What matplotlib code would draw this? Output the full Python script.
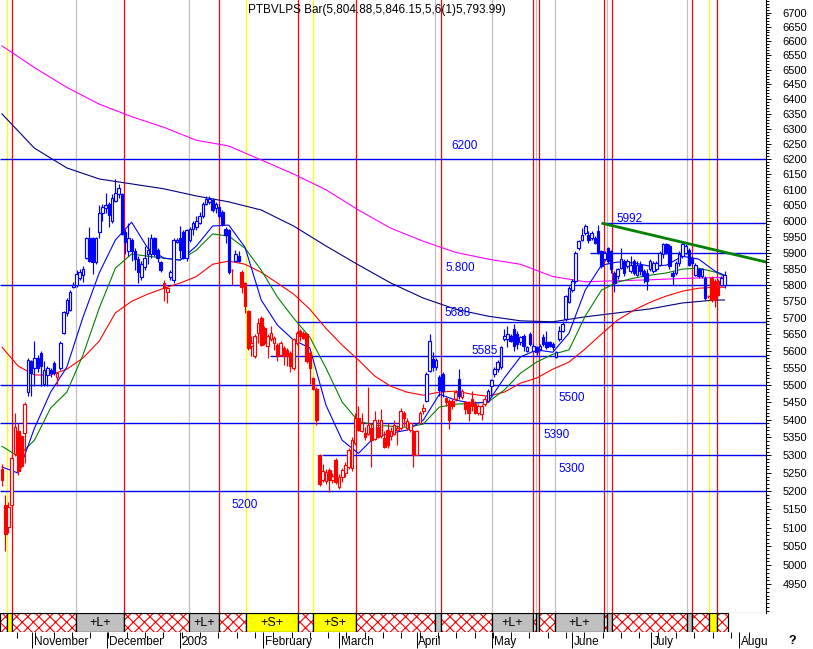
import matplotlib
matplotlib.use('Agg')
import matplotlib.pyplot as plt
import matplotlib.ticker as mticker
import matplotlib.transforms as mtransforms
from matplotlib.patches import Rectangle
import numpy as np

plt.rcParams['font.family'] = ['Liberation Sans', 'DejaVu Sans']
plt.rcParams['hatch.linewidth'] = 0.8

# daily OHLC, Oct 2002 - Jul 2003 (bar index on x)
open_ = [5260, 5162, 5102, 5162, 5302, 5367, 5353, 5362, 5480, 5570,
         5550, 5580, 5595, 5505, 5530, 5545, 5565, 5525, 5550, 5655,
         5715, 5725, 5795, 5800, 5820, 5830, 5885, 5947, 5947, 5870,
         5965, 6025, 6040, 6055, 6000, 6065, 6085, 6085, 5965, 5905,
         5940, 5905, 5880, 5825, 5855, 5895, 5895, 5945, 5910, 5870,
         5805, 5780, 5825, 5815, 5935, 5945, 5965, 5885, 5940, 5975,
         5980, 5995, 6015, 6055, 6060, 6067, 6040, 6045, 6030, 5975,
         5970, 5845, 5875, 5890, 5840, 5805, 5720, 5615, 5585, 5655,
         5700, 5670, 5615, 5635, 5625, 5620, 5590, 5610, 5605, 5595,
         5550, 5625, 5660, 5655, 5650, 5595, 5520, 5490, 5300, 5230,
         5228, 5258, 5232, 5286, 5212, 5240, 5249, 5267, 5263, 5333,
         5406, 5368, 5362, 5361, 5376, 5347, 5380, 5353, 5348, 5372,
         5353, 5361, 5372, 5376, 5420, 5376, 5372, 5367, 5300, 5392,
         5426, 5455, 5543, 5577, 5553, 5525, 5533, 5462, 5455, 5455,
         5460, 5519, 5465, 5450, 5450, 5460, 5445, 5420, 5416, 5445,
         5455, 5499, 5533, 5548, 5553, 5636, 5636, 5646, 5666, 5651,
         5626, 5646, 5602, 5651, 5602, 5612, 5607, 5641, 5626, 5626,
         5622, 5582, 5636, 5661, 5695, 5749, 5785, 5811, 5915, 5941,
         5962, 5957, 5947, 5947, 5967, 5905, 5879, 5915, 5905, 5837,
         5827, 5853, 5874, 5858, 5843, 5874, 5832, 5863, 5843, 5837,
         5848, 5843, 5848, 5863, 5895, 5926, 5921, 5837, 5837, 5869,
         5889, 5900, 5910, 5884, 5832, 5848, 5827, 5822, 5765, 5822,
         5811, 5811, 5801, 5801]
high = [5275, 5190, 5170, 5297, 5421, 5390, 5358, 5451, 5580, 5575,
        5630, 5590, 5600, 5570, 5555, 5550, 5570, 5535, 5630, 5720,
        5760, 5785, 5810, 5845, 5850, 5860, 5950, 5980, 5950, 5950,
        6050, 6055, 6090, 6060, 6085, 6135, 6120, 6090, 5975, 5995,
        5945, 5915, 5890, 5875, 5920, 5950, 5960, 5950, 5915, 5875,
        5815, 5795, 5845, 5945, 5945, 5985, 5970, 5975, 5980, 6000,
        6015, 6030, 6060, 6080, 6080, 6075, 6060, 6055, 6035, 5980,
        5975, 5848, 5910, 5905, 5845, 5810, 5725, 5645, 5650, 5700,
        5705, 5675, 5650, 5675, 5645, 5625, 5630, 5615, 5610, 5600,
        5640, 5660, 5665, 5660, 5655, 5600, 5525, 5495, 5302, 5275,
        5262, 5265, 5250, 5292, 5248, 5265, 5280, 5320, 5350, 5420,
        5440, 5420, 5381, 5494, 5390, 5425, 5402, 5430, 5367, 5390,
        5380, 5401, 5386, 5435, 5425, 5406, 5395, 5372, 5372, 5425,
        5445, 5538, 5651, 5597, 5580, 5530, 5538, 5465, 5460, 5460,
        5485, 5548, 5490, 5455, 5455, 5484, 5455, 5445, 5445, 5470,
        5490, 5519, 5553, 5575, 5617, 5666, 5675, 5651, 5680, 5661,
        5646, 5651, 5617, 5656, 5625, 5617, 5622, 5651, 5661, 5631,
        5626, 5602, 5675, 5690, 5770, 5796, 5817, 5905, 5941, 5978,
        5990, 5967, 5967, 5952, 5988, 5910, 5905, 5917, 5910, 5842,
        5853, 5915, 5879, 5880, 5889, 5879, 5874, 5874, 5848, 5848,
        5880, 5874, 5874, 5905, 5931, 5931, 5926, 5842, 5874, 5905,
        5931, 5926, 5915, 5889, 5869, 5853, 5853, 5827, 5768, 5827,
        5817, 5817, 5827, 5843]
low = [5215, 5037, 5085, 5157, 5297, 5246, 5264, 5278, 5470, 5470,
       5499, 5540, 5499, 5499, 5499, 5525, 5530, 5499, 5545, 5650,
       5705, 5720, 5790, 5795, 5815, 5810, 5880, 5870, 5835, 5865,
       5945, 6000, 6025, 5980, 5995, 6060, 6075, 5955, 5895, 5890,
       5875, 5845, 5805, 5815, 5845, 5865, 5885, 5890, 5870, 5840,
       5750, 5745, 5815, 5805, 5930, 5885, 5880, 5875, 5935, 5955,
       5970, 5990, 6010, 6050, 6055, 6030, 6025, 6010, 5985, 5930,
       5835, 5800, 5870, 5870, 5775, 5715, 5605, 5585, 5580, 5625,
       5615, 5620, 5580, 5630, 5605, 5570, 5585, 5560, 5555, 5540,
       5545, 5620, 5630, 5635, 5565, 5505, 5485, 5385, 5215, 5225,
       5220, 5198, 5222, 5220, 5205, 5225, 5240, 5260, 5255, 5330,
       5367, 5365, 5343, 5357, 5267, 5342, 5348, 5348, 5320, 5319,
       5343, 5357, 5329, 5372, 5382, 5372, 5365, 5267, 5300, 5387,
       5416, 5450, 5538, 5543, 5545, 5470, 5465, 5441, 5375, 5430,
       5455, 5460, 5460, 5416, 5396, 5426, 5416, 5415, 5401, 5440,
       5450, 5470, 5524, 5540, 5548, 5631, 5612, 5626, 5602, 5607,
       5620, 5602, 5597, 5617, 5597, 5590, 5600, 5617, 5607, 5612,
       5605, 5580, 5631, 5656, 5690, 5744, 5780, 5806, 5910, 5936,
       5957, 5930, 5941, 5926, 5895, 5853, 5875, 5869, 5837, 5780,
       5817, 5848, 5827, 5853, 5837, 5832, 5827, 5832, 5806, 5785,
       5843, 5837, 5843, 5858, 5884, 5895, 5848, 5800, 5832, 5858,
       5884, 5895, 5858, 5858, 5827, 5822, 5822, 5754, 5760, 5749,
       5733, 5765, 5796, 5790]
close = [5232, 5083, 5157, 5292, 5381, 5255, 5269, 5446, 5575, 5535,
         5580, 5550, 5555, 5545, 5550, 5535, 5535, 5535, 5625, 5717,
         5755, 5780, 5800, 5835, 5840, 5850, 5945, 5873, 5870, 5945,
         6025, 6045, 6050, 6020, 6075, 6090, 6105, 5960, 5935, 5945,
         5905, 5880, 5840, 5865, 5885, 5910, 5945, 5895, 5885, 5845,
         5790, 5790, 5840, 5940, 5940, 5910, 5885, 5970, 5975, 5995,
         6000, 6015, 6055, 6070, 6070, 6035, 6055, 6015, 5990, 5955,
         5840, 5845, 5895, 5875, 5795, 5735, 5610, 5625, 5645, 5685,
         5620, 5625, 5645, 5655, 5640, 5585, 5625, 5585, 5585, 5555,
         5635, 5655, 5645, 5640, 5570, 5550, 5490, 5400, 5220, 5255,
         5254, 5230, 5242, 5226, 5240, 5258, 5272, 5314, 5343, 5405,
         5372, 5391, 5352, 5386, 5343, 5401, 5352, 5401, 5324, 5329,
         5367, 5386, 5376, 5425, 5406, 5396, 5391, 5300, 5367, 5421,
         5435, 5533, 5631, 5553, 5573, 5485, 5484, 5450, 5401, 5440,
         5480, 5470, 5484, 5430, 5420, 5440, 5420, 5440, 5440, 5460,
         5484, 5514, 5548, 5568, 5612, 5646, 5651, 5631, 5617, 5622,
         5641, 5617, 5612, 5622, 5617, 5597, 5617, 5622, 5612, 5617,
         5612, 5597, 5661, 5680, 5765, 5791, 5811, 5900, 5936, 5957,
         5983, 5941, 5962, 5931, 5900, 5858, 5900, 5874, 5848, 5806,
         5848, 5879, 5837, 5874, 5863, 5837, 5863, 5843, 5827, 5811,
         5874, 5869, 5869, 5900, 5926, 5900, 5858, 5827, 5869, 5895,
         5926, 5921, 5863, 5869, 5863, 5827, 5848, 5759, 5765, 5754,
         5754, 5770, 5822, 5832]
# bars drawn in red (first, last index of each run)
red_spans = [(0, 7), (17, 17), (50, 51), (71, 71), (74, 130), (137, 140), (142, 149), (218, 221)]

# moving averages, read every 5 bars
ma_idx = [0, 5, 10, 15, 20, 25, 30, 35, 40, 45, 50, 55, 60, 65, 70, 75, 80, 85, 90, 95,
          100, 105, 110, 115, 120, 125, 130, 135, 140, 145, 150, 155, 160, 165, 170, 175,
          180, 185, 190, 195, 200, 205, 210, 215, 220, 223]
ma_blue = [5267, 5250, 5376, 5480, 5553, 5702, 5837, 5940, 5996, 5914, 5883, 5877, 5921, 5984,
           5987, 5917, 5754, 5678, 5633, 5610, 5442, 5342, 5305, 5351, 5362, 5371, 5399, 5474,
           5457, 5448, 5451, 5521, 5583, 5604, 5597, 5654, 5784, 5861, 5871, 5868, 5858, 5861,
           5889, 5880, 5843, 5830]
ma_green = [5325, 5297, 5342, 5434, 5480, 5589, 5729, 5852, 5896, 5889, 5883, 5877, 5908, 5959,
            5952, 5914, 5846, 5763, 5699, 5642, 5550, 5451, 5396, 5385, 5382, 5379, 5388, 5437,
            5445, 5448, 5451, 5486, 5535, 5568, 5591, 5604, 5705, 5784, 5809, 5821, 5830, 5837,
            5849, 5852, 5840, 5827]
ma_red = [5612, 5556, 5530, 5530, 5547, 5580, 5630, 5715, 5750, 5772, 5790, 5806, 5826, 5864,
          5874, 5864, 5839, 5806, 5772, 5726, 5668, 5618, 5574, 5527, 5497, 5480, 5471, 5480,
          5483, 5474, 5468, 5480, 5506, 5521, 5547, 5568, 5607, 5651, 5693, 5723, 5747, 5766,
          5781, 5790, 5793, 5793]
# long averages, read every 10 bars
long_idx = [0, 10, 20, 30, 40, 50, 60, 70, 80, 90, 100, 110, 120, 130, 140, 150, 160, 170,
            180, 190, 200, 210, 220, 223]
ma_navy = [6350, 6236, 6171, 6135, 6119, 6103, 6080, 6061, 6035, 5984, 5921, 5862, 5806, 5760,
           5726, 5705, 5691, 5688, 5703, 5715, 5727, 5745, 5754, 5754]
ma_magenta = [6583, 6508, 6440, 6383, 6341, 6305, 6262, 6243, 6197, 6151, 6100, 6035, 5977, 5936,
              5901, 5880, 5864, 5826, 5810, 5813, 5816, 5820, 5823, 5823]

# support / resistance levels and where they start (None = whole width)
levels = [6200, 5992, 5900, 5800, 5688, 5585, 5500, 5390, 5300, 5200]
level_start = [None, 185, 181.5, None, 91, 82.7, None, None, 98.8, None]
trend_idx = [185.5, 235.8]
trend_val = [5992, 5871]

# signal band: start bar of each state (N = neutral, L = long, S = short)
sig_start = [-0.6, 1.5, 3.1, 22.8, 37.7, 57.7, 67.0, 75.3, 91.4, 96.0, 109.3, 133.6, 135.5,
             151.2, 163.9, 164.8, 165.7, 170.7, 185.8, 186.7, 188.3, 211.4, 213.0, 218.2, 220.7]
sig_state = ['N', 'S', 'N', 'L', 'N', 'L', 'N', 'S', 'N', 'S', 'N', 'L', 'N', 'L', 'N', 'L',
             'N', 'L', 'N', 'L', 'N', 'L', 'N', 'S', 'N']
sig_end = 224.1

month_idx = [9.3, 32.4, 54.9, 80.6, 104.0, 128.0, 151.2, 175.9, 200.3, 227.5]
month_lbl = ['November', 'December', '2003', 'February', 'March', 'April', 'May', 'June',
             'July', 'August']

n = len(close)
idx = np.arange(n)
o = np.array(open_, float)
c = np.array(close, float)
is_red = np.zeros(n, bool)
for a, b in red_spans:
    is_red[a:b + 1] = True
cols = np.where(is_red, '#ff0000', '#0000ff')

W, H = 813, 649
fig = plt.figure(figsize=(W / 100, H / 100), dpi=100)
ax = fig.add_axes([0, 1 - 613 / H, 766 / W, 613 / H])
axb = fig.add_axes([0, 1 - 632 / H, 766 / W, 19 / H])
XMIN, XMAX = -0.62, 235.8

ax.set_yscale('log')
ax.set_ylim(4875, 6745)
ax.set_xlim(XMIN, XMAX)

# signal verticals
line_col = {'N': '#ff0000', 'L': '#c0c0c0', 'S': '#ffff00'}
for s, st in zip(sig_start[1:], sig_state[1:]):
    ax.axvline(s, color=line_col[st], lw=0.9, zorder=1)

# levels
for lv, st in zip(levels, level_start):
    x0 = XMIN if st is None else st
    ax.hlines(lv, x0, XMAX, color='#0000f0', lw=1.0, zorder=2)

labels = [('6200', 138.6, 6243), ('5992', 189.8, 6006), ('5.800', 137.0, 5852),
          ('5688', 136.7, 5714), ('5585', 144.8, 5600), ('5500', 171.6, 5463),
          ('5390', 167.0, 5357), ('5300', 171.6, 5262), ('5200', 70.7, 5161)]
for t, x, y in labels:
    ax.text(x, y, t, color='#0000ff', fontsize=8.5, ha='left', va='center', zorder=6)

# moving averages
ax.plot(long_idx, ma_magenta, color='#ff00ff', lw=0.8, zorder=2.5)
ax.plot(long_idx, ma_navy, color='#000080', lw=0.8, zorder=2.5)
ax.plot(ma_idx, ma_red, color='#ff0000', lw=0.8, zorder=2.5)
ax.plot(ma_idx, ma_green, color='#008000', lw=0.8, zorder=2.5)
ax.plot(ma_idx, ma_blue, color='#0000ff', lw=0.8, zorder=2.5)
ax.plot(trend_idx, trend_val, color='#008000', lw=2.0, zorder=5)

# candles
ax.vlines(idx, low, high, colors=cols, lw=0.85, zorder=3)
face = np.where(c >= o, 'white', cols)
ax.bar(idx, np.abs(c - o), width=0.8, bottom=np.minimum(o, c), color=face,
       edgecolor=cols, linewidth=0.85, zorder=4)

# axes styling
for sp in ['left', 'top']:
    ax.spines[sp].set_visible(False)
ax.spines['right'].set_linewidth(0.8)
ax.spines['bottom'].set_linewidth(0.8)
ax.yaxis.tick_right()
ax.yaxis.set_major_locator(mticker.FixedLocator(np.arange(4950, 6701, 50)))
ax.yaxis.set_major_formatter(mticker.FuncFormatter(lambda v, p: f'{v:.0f}'))
ax.yaxis.set_minor_locator(mticker.FixedLocator(np.arange(4880, 6745, 10)))
ax.yaxis.set_minor_formatter(mticker.NullFormatter())
ax.tick_params(axis='y', which='major', length=3.8, width=0.7, pad=8, labelsize=8)
ax.tick_params(axis='y', which='minor', length=2.2, width=0.7)
ax.tick_params(axis='x', which='both', bottom=False, labelbottom=False)

# signal band
axb.set_xlim(XMIN, XMAX)
axb.set_ylim(0, 1)
for sp in axb.spines.values():
    sp.set_visible(False)
axb.set_yticks([])
ends = sig_start[1:] + [sig_end]
for s, e, st in zip(sig_start, ends, sig_state):
    if st == 'N':
        axb.add_patch(Rectangle((s, 0), e - s, 1, facecolor='white', edgecolor='#ff0000',
                                hatch='xxx', lw=0))
    else:
        fc = '#c0c0c0' if st == 'L' else '#ffff00'
        axb.add_patch(Rectangle((s, 0), e - s, 1, facecolor=fc, lw=0))
        if e - s > 6:
            axb.text((s + e) / 2, 0.5, '+' + st + '+', ha='center', va='center', fontsize=9)
    axb.add_patch(Rectangle((s, 0), e - s, 1, facecolor='none', edgecolor='black', lw=0.9))

axb.set_xticks(month_idx)
axb.set_xticklabels([''] * len(month_idx))
axb.xaxis.set_minor_locator(mticker.FixedLocator(np.arange(4.6, 236, 5.65)))
axb.tick_params(axis='x', which='major', length=11.5, width=0.7)
axb.tick_params(axis='x', which='minor', length=4.3, width=0.7)
trans = mtransforms.blended_transform_factory(axb.transData, axb.transAxes)
clip = mtransforms.Bbox.from_extents(0, 0, 767, H)
for m, lbl in zip(month_idx, month_lbl):
    t = axb.text(m + 0.5, -0.2, lbl, transform=trans, ha='left', va='top', fontsize=8.5,
                 clip_on=True)
    t.set_clip_box(clip)

fig.text(788 / W, 1 - 641 / H, '?', fontsize=9, fontweight='bold', ha='left', va='center')

# title caption
fig.text(248 / W, 1 - 10 / H, 'PTBVLPS Bar(5,804.88,5,846.15,5,6(1)5,793.99)',
         fontsize=8.5, va='center')

fig.savefig('out.png', dpi=100)
